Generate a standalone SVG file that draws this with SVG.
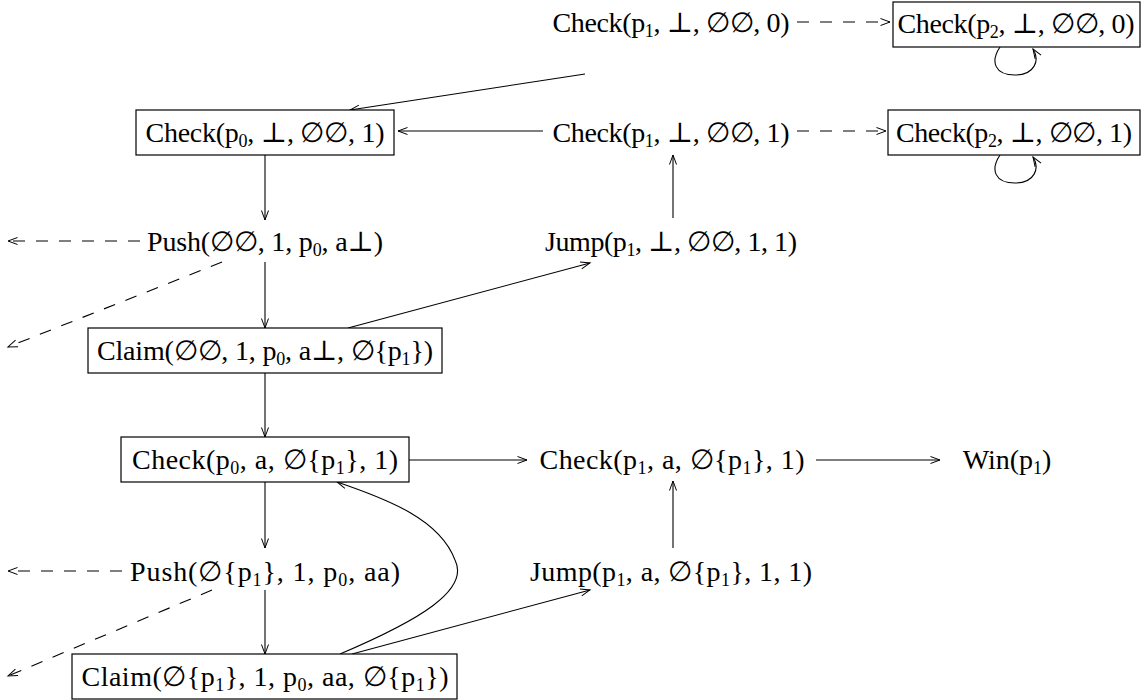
<svg xmlns="http://www.w3.org/2000/svg" width="1145" height="700" viewBox="0 0 1145 700">
<style>
text{font-family:"Liberation Serif","DejaVu Serif",serif;font-size:28px;fill:#000;text-anchor:middle}
.s{font-size:18px}
.b{fill:#fff;stroke:#000;stroke-width:1.2}
.e{fill:none;stroke:#000;stroke-width:1.1;marker-end:url(#ah)}
.d{stroke-dasharray:12 11}
</style>
<defs>
<marker id="ah" markerUnits="userSpaceOnUse" markerWidth="12" markerHeight="10" refX="10" refY="4" orient="auto">
<path d="M0.5,0.5 L10,4 L0.5,7.5" fill="none" stroke="#000" stroke-width="1"/>
</marker>
</defs>
<rect width="1145" height="700" fill="#fff"/>
<g id="edges">
<path class="e d" d="M797,22 L890,22"/>
<path class="e" d="M585,74 L350,110"/>
<path class="e" d="M543,131 L398,131"/>
<path class="e d" d="M797,131 L886,131"/>
<path class="e" d="M673,218 L673,155"/>
<path class="e" d="M265,155 L265,220"/>
<path class="e d" d="M140,241 L8,241"/>
<path class="e d" d="M222,262 L8,347"/>
<path class="e" d="M265,262 L265,328"/>
<path class="e" d="M348,328 L590,263"/>
<path class="e" d="M265,373 L265,437"/>
<path class="e" d="M409,460 L527,460"/>
<path class="e" d="M816,460 L940,460"/>
<path class="e" d="M673,548 L673,481"/>
<path class="e" d="M265,482 L265,548"/>
<path class="e d" d="M122,571 L8,571"/>
<path class="e d" d="M212,590 L8,676"/>
<path class="e" d="M265,590 L265,654"/>
<path class="e" d="M340,654 C420,620 470,590 455,560 C440,520 390,500 337,482"/>
<path class="e" d="M352,654 L590,590"/>
<path class="e" d="M1000,47 C990,62 995,75 1015,75 C1035,75 1040,60 1033,49"/>
<path class="e" d="M1000,155 C990,170 995,183 1015,183 C1035,183 1040,168 1033,157"/>
</g>
<g id="n1"><text x="671" y="32" textLength="237" lengthAdjust="spacing">Check(p<tspan class="s" dy="5">1</tspan><tspan dy="-5">, ⊥, ∅∅, 0)</tspan></text></g>
<g id="n2"><rect class="b" x="893" y="2" width="247" height="45"/><text x="1016" y="33" textLength="237" lengthAdjust="spacing">Check(p<tspan class="s" dy="5">2</tspan><tspan dy="-5">, ⊥, ∅∅, 0)</tspan></text></g>
<g id="n3"><rect class="b" x="136" y="110" width="258" height="45"/><text x="265" y="142" textLength="239" lengthAdjust="spacing">Check(p<tspan class="s" dy="5">0</tspan><tspan dy="-5">, ⊥, ∅∅, 1)</tspan></text></g>
<g id="n4"><text x="671" y="142" textLength="237" lengthAdjust="spacing">Check(p<tspan class="s" dy="5">1</tspan><tspan dy="-5">, ⊥, ∅∅, 1)</tspan></text></g>
<g id="n5"><rect class="b" x="888" y="110" width="252" height="45"/><text x="1014" y="142" textLength="236" lengthAdjust="spacing">Check(p<tspan class="s" dy="5">2</tspan><tspan dy="-5">, ⊥, ∅∅, 1)</tspan></text></g>
<g id="n6"><text x="265" y="251" textLength="236" lengthAdjust="spacing">Push(∅∅, 1, p<tspan class="s" dy="5">0</tspan><tspan dy="-5">, a⊥)</tspan></text></g>
<g id="n7"><text x="671" y="251" textLength="252" lengthAdjust="spacing">Jump(p<tspan class="s" dy="5">1</tspan><tspan dy="-5">, ⊥, ∅∅, 1, 1)</tspan></text></g>
<g id="n8"><rect class="b" x="88" y="328" width="354" height="45"/><text x="265" y="360" textLength="336" lengthAdjust="spacing">Claim(∅∅, 1, p<tspan class="s" dy="5">0</tspan><tspan dy="-5">, a⊥, ∅{p</tspan><tspan class="s" dy="5">1</tspan><tspan dy="-5">})</tspan></text></g>
<g id="n9"><rect class="b" x="121" y="437" width="288" height="45"/><text x="265" y="469" textLength="266" lengthAdjust="spacing">Check(p<tspan class="s" dy="5">0</tspan><tspan dy="-5">, a, ∅{p</tspan><tspan class="s" dy="5">1</tspan><tspan dy="-5">}, 1)</tspan></text></g>
<g id="n10"><text x="672" y="469" textLength="265" lengthAdjust="spacing">Check(p<tspan class="s" dy="5">1</tspan><tspan dy="-5">, a, ∅{p</tspan><tspan class="s" dy="5">1</tspan><tspan dy="-5">}, 1)</tspan></text></g>
<g id="n11"><text x="1007" y="469">Win(p<tspan class="s" dy="5">1</tspan><tspan dy="-5">)</tspan></text></g>
<g id="n12"><text x="265" y="581" textLength="270" lengthAdjust="spacing">Push(∅{p<tspan class="s" dy="5">1</tspan><tspan dy="-5">}, 1, p</tspan><tspan class="s" dy="5">0</tspan><tspan dy="-5">, aa)</tspan></text></g>
<g id="n13"><text x="671" y="581" textLength="282" lengthAdjust="spacing">Jump(p<tspan class="s" dy="5">1</tspan><tspan dy="-5">, a, ∅{p</tspan><tspan class="s" dy="5">1</tspan><tspan dy="-5">}, 1, 1)</tspan></text></g>
<g id="n14"><rect class="b" x="72" y="654" width="385" height="45"/><text x="265" y="686" textLength="367" lengthAdjust="spacing">Claim(∅{p<tspan class="s" dy="5">1</tspan><tspan dy="-5">}, 1, p</tspan><tspan class="s" dy="5">0</tspan><tspan dy="-5">, aa, ∅{p</tspan><tspan class="s" dy="5">1</tspan><tspan dy="-5">})</tspan></text></g>
</svg>
